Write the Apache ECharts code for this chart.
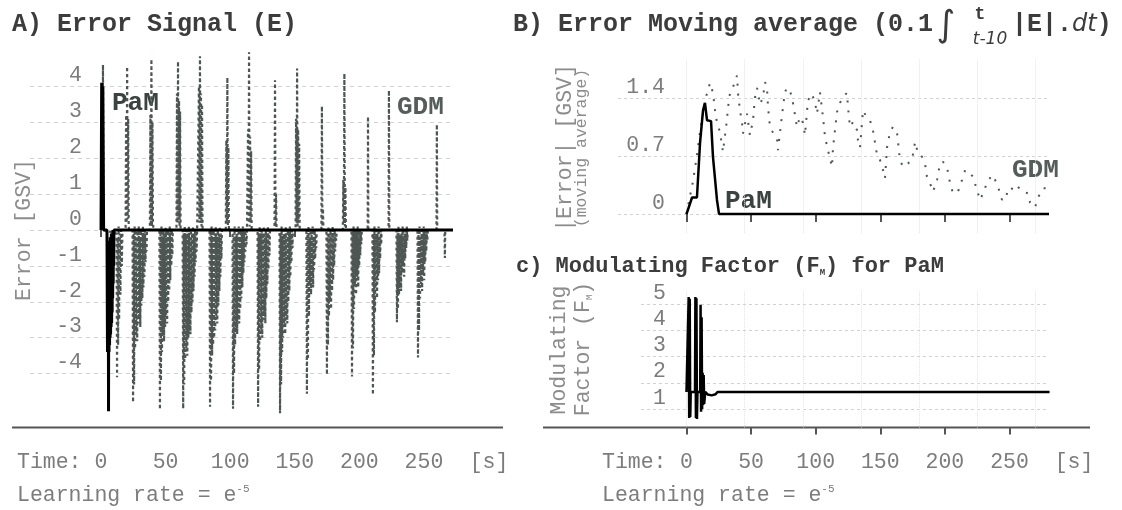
<!DOCTYPE html>
<html>
<head>
<meta charset="utf-8">
<script src="https://cdn.jsdelivr.net/npm/echarts@6/dist/echarts.min.js"></script>
<style>
  html, body { margin: 0; padding: 0; background: #fff; }
  #chart { width: 1122px; height: 510px; }
</style>
</head>
<body>
<div id="chart"></div>
<script>
// ticks
const timeTicks = [0, 50, 100, 150, 200, 250];
const gridTimes = [0, 45, 90, 135, 180, 225, 270];
const errorTicks = [-4, -3, -2, -1, 0, 1, 2, 3, 4];
const avgTicks = [0, 0.7, 1.4];
const factorTicks = [1, 2, 3, 4, 5];

// A) error signal, PaM
const pamTime = [0, 0.5, 1.0, 1.4, 2.0, 4.6,
  5.0, 5.2, 5.4, 5.6, 5.8, 6.0, 6.2, 6.4, 6.6, 6.8, 7.0, 7.2, 7.4, 7.6, 7.8, 8.0, 8.2, 8.4, 8.6, 8.8, 9.0, 9.2, 9.4, 9.6, 9.8, 10.0,
  10.4, 272.5];
const pamError = [0, 4.1, 0.5, 4.0, 0, 0,
  -3.4, -0.4, -3.3, -0.6, -5.05, -0.5, -3.4, -0.3, -3.2, -0.4, -3.0, -0.2, -2.9, -0.3, -2.7, -0.1, -2.6, -0.2, -2.3, -0.1, -1.9, 0, -1.5, -0.1, -1.0, 0,
  0, 0];

// A) error signal, GDM (one line per burst)
const gdmTime = [
  0, 1.1, 1.5, 1.9, 12.0, 12.4, 12.8, 13.2, 13.6, 14.0, 14.4, 15.0, 15.5, 16.1, 16.6,
  19.0, 19.4, 19.8, 20.2, 20.6, 21.0, 21.4, 21.8,
  24.4, 24.8, 25.2, 25.6, 26.0, 26.4, 26.8, 27.2, 27.6, 28.0, 28.4, 28.8, 29.2, 29.6, 30.0, 30.4, 30.8, 31.2, 31.6, 32.0, 32.4, 32.8, 33.2, 33.6, 34.0, 34.4, 34.8, 35.2, 35.6,
  37.8, 38.2, 38.6, 39.0, 39.4, 39.8, 40.2, 40.6,
  45.2, 45.6, 46.0, 46.4, 46.8, 47.2, 47.6, 48.0, 48.4, 48.8, 49.2, 49.6, 50.0, 50.4, 50.8, 51.2, 51.6, 52.0, 52.4, 52.8, 53.2, 53.6, 54.0, 54.4, 54.8, 55.2, 55.6,
  58.4, 58.8, 59.2, 59.6, 60.0, 60.4, 60.8, 61.2, 61.6, 62.0,
  63.2, 63.6, 64.0, 64.4, 64.8, 65.2, 65.6, 66.0, 66.4, 66.8, 67.2, 67.6, 68.0, 68.4, 68.8, 69.2, 69.6, 70.0, 70.4, 70.8, 71.2, 71.6, 72.0, 72.4, 72.8, 73.2, 73.6, 74.0, 74.4,
  75.4, 75.8, 76.2, 76.6, 77.0, 77.4, 77.8, 78.2, 78.6, 79.0,
  84.0, 84.4, 84.8, 85.2, 85.6, 86.0, 86.4, 86.8, 87.2, 87.6, 88.0, 88.4, 88.8, 89.2, 89.6, 90.0, 90.4, 90.8, 91.2, 91.6, 92.0, 92.4, 92.8, 93.2, 93.6,
  96.6, 97.0, 97.4, 97.8, 98.2, 98.6, 99.0, 99.4,
  101.8, 102.2, 102.6, 103.0, 103.4, 103.8, 104.2, 104.6, 105.0, 105.4, 105.8, 106.2, 106.6, 107.0, 107.4, 107.8, 108.2, 108.6, 109.0, 109.4, 109.8, 110.2, 110.6, 111.0, 111.4, 111.8, 112.2, 112.6, 113.0,
  113.4, 113.8, 114.2, 114.6, 115.0, 115.4, 115.8, 116.2, 116.6, 117.0,
  121.2, 121.6, 122.0, 122.4, 122.8, 123.2, 123.6, 124.0, 124.4, 124.8, 125.2, 125.6, 126.0, 126.4, 126.8, 127.2, 127.6, 128.0, 128.4, 128.8, 129.2, 129.6, 130.0, 130.4, 130.8,
  134.3, 134.7, 135.1, 135.5, 135.9,
  138.2, 138.6, 139.0, 139.4, 139.8, 140.2, 140.6, 141.0, 141.4, 141.8, 142.2, 142.6, 143.0, 143.4, 143.8, 144.2, 144.6, 145.0, 145.4, 145.8, 146.2, 146.6, 147.0, 147.4, 147.8, 148.2, 148.6,
  150.6, 151.0, 151.4, 151.8, 152.2, 152.6, 153.0, 153.4, 153.8, 154.2,
  159.0, 159.4, 159.8, 160.2, 160.6, 161.0, 161.4, 161.8, 162.2, 162.6, 163.0, 163.4, 163.8, 164.2, 164.6, 165.0, 165.4, 165.8, 166.2, 166.6, 167.0,
  170.6, 171.0, 171.4, 171.8, 172.2,
  174.5, 174.9, 175.3, 175.7, 176.1, 176.5, 176.9, 177.3, 177.7, 178.1, 178.5, 178.9, 179.3, 179.7, 180.1, 180.5, 180.9, 181.3, 181.7, 182.1, 182.5,
  187.2, 187.6, 188.0, 188.4, 188.8, 189.2, 189.6, 190.0,
  193.9, 194.3, 194.7, 195.1, 195.5, 195.9, 196.3, 196.7, 197.1, 197.5, 197.9, 198.3, 198.7, 199.1, 199.5, 199.9, 200.3, 200.7, 201.1, 201.5, 201.9,
  206.4, 206.7, 207.0,
  210.1, 210.5, 210.9, 211.3, 211.7, 212.1, 212.5, 212.9, 213.3, 213.7, 214.1, 214.5, 214.9, 215.3, 215.7, 216.1, 216.5, 216.9, 217.3,
  222.6, 222.9, 223.2,
  228.7, 229.1, 229.5, 229.9, 230.3, 230.7, 231.1, 231.5, 231.9, 232.3, 232.7, 233.1, 233.5, 233.9, 234.3, 234.7, 235.1, 235.5, 235.9, 236.3, 236.7, 237.1, 237.5,
  245.0, 245.4, 245.8, 246.2, 246.6, 247.0, 247.4, 247.8, 248.2, 248.6, 249.0, 249.4, 249.8, 250.2, 250.6, 251.0, 251.4, 251.8, 252.2, 252.6, 253.0,
  259.7, 260.0, 260.3,
  265.9, 266.2, 266.5, 270
];
const gdmError = [
  0, 1.8, 4.6, 0, -0.1, -4.1, -0.2, -3.2, 0.1, -2.5, -0.1, -1.8, 0, -1.0, 0,
  0, 3.2, 0.2, 4.55, 0.3, 3.1, 0.1, 0,
  0, -4.8, -0.1, -4.3, 0.1, -3.3, -0.2, -2.9, 0, -3.1, -0.1, -2.6, 0.1, -2.4, -0.2, -2.7, 0, -2.1, -0.1, -1.9, 0.1, -1.6, -0.1, -1.3, 0, -0.9, -0.1, -0.6, 0,
  0, 3.2, 0.2, 4.76, 0.1, 3.0, 0.2, 0,
  0, -5.0, -0.1, -4.2, 0.1, -3.4, -0.2, -2.9, 0, -3.1, -0.1, -2.7, 0.1, -2.4, -0.2, -2.6, 0, -2.0, -0.1, -1.7, 0.1, -1.4, -0.1, -1.0, 0, -0.7, 0,
  0, 3.8, 0.2, 4.7, 0.3, 3.6, 0.1, 3.3, 0, 0,
  0, -4.98, -0.1, -4.3, 0.1, -3.6, -0.2, -3.3, 0, -3.5, -0.1, -3.0, 0.1, -2.7, -0.2, -2.9, 0, -2.3, -0.1, -2.0, 0.1, -1.7, -0.1, -1.3, 0, -0.9, -0.1, -0.6, 0,
  0, 4.0, 0.2, 4.84, 0.3, 3.8, 0.1, 3.5, 0, 0,
  0, -4.92, -0.1, -4.2, 0.1, -3.5, -0.2, -3.2, 0, -3.0, -0.1, -2.8, 0.1, -2.5, -0.2, -2.6, 0, -2.1, -0.1, -1.7, 0.1, -1.3, -0.1, -0.8, 0,
  0, 2.5, 0.2, 4.25, 0.1, 2.3, 0, 0,
  0, -4.98, -0.1, -4.0, 0.1, -3.2, -0.2, -2.8, 0, -2.9, -0.1, -2.5, 0.1, -2.6, -0.2, -2.2, 0, -1.9, -0.1, -1.6, 0.1, -1.2, -0.1, -0.9, 0, -0.6, -0.1, -0.4, 0,
  0, 2.8, 0.2, 4.95, 0.1, 2.6, 0.2, 2.2, 0, 0,
  0, -4.92, -0.1, -3.9, 0.1, -3.1, -0.2, -2.8, 0, -3.0, -0.1, -2.5, 0.1, -2.3, -0.2, -2.6, 0, -1.9, -0.1, -1.5, 0.1, -1.1, -0.1, -0.7, 0,
  0, 4.17, 0.1, 1.0, 0,
  0, -5.1, -0.1, -4.3, 0.1, -3.4, -0.2, -3.0, 0, -2.7, -0.1, -2.9, 0.1, -2.4, -0.2, -2.6, 0, -2.0, -0.1, -1.7, 0.1, -1.3, -0.1, -0.9, 0, -0.5, 0,
  0, 3.1, 0.2, 4.5, 0.1, 2.8, 0.2, 2.4, 0, 0,
  0, -4.56, -0.1, -3.6, 0.1, -2.4, -0.2, -1.5, 0, -1.8, -0.1, -1.3, 0.1, -1.6, -0.2, -1.1, 0, -0.8, -0.1, -0.5, 0,
  0, 3.45, 0.1, 0.6, 0,
  0, -4.03, -0.1, -3.2, 0.1, -2.4, -0.2, -2.0, 0, -2.2, -0.1, -1.7, 0.1, -1.4, -0.2, -1.0, 0, -0.6, -0.1, -0.3, 0,
  0, 1.4, 0.2, 4.36, 0.1, 1.2, 0, 0,
  0, -4.08, -0.1, -3.3, 0.1, -2.2, -0.2, -1.5, 0, -1.8, -0.1, -1.3, 0.1, -1.6, -0.2, -1.0, 0, -0.7, -0.1, -0.4, 0,
  0, 3.16, 0,
  0, -4.59, -0.1, -3.5, 0.1, -2.3, -0.2, -1.6, 0, -1.9, -0.1, -1.4, 0.1, -1.2, -0.2, -0.8, 0, -0.4, 0,
  0, 3.89, 0,
  0, -2.57, -0.1, -2.2, 0.1, -1.8, -0.2, -1.5, 0, -1.7, -0.1, -1.2, 0.1, -1.0, -0.2, -1.3, 0, -0.8, -0.1, -0.5, 0.1, -0.3, 0,
  0, -3.55, -0.1, -2.8, 0.1, -1.9, -0.2, -1.5, 0, -1.7, -0.1, -1.2, 0.1, -1.4, -0.2, -0.9, 0, -0.6, -0.1, -0.3, 0,
  0, 2.94, 0,
  0, -0.78, 0, 0
];

// B) moving average of |E|
const pamAvgTime = [0, 0.4, 4.3, 8.1, 10.5, 12.8, 14.3, 15.9, 19.0, 20.5, 23.6, 25.2, 297];
const pamAvg = [0, 0, 0.2, 0.2, 0.86, 1.25, 1.34, 1.13, 1.12, 0.69, 0.17, 0, 0];
const gdmAvgTime = [
  0, 2.5, 5.0, 8.0, 11.0, 15.1, 18.2, 20.5, 22.1, 23.6, 25.9, 28.2, 31.3, 32.1, 33.7, 36.0, 39.1, 39.9, 41.4, 43.0,
  43.7, 46.8, 49.1, 51.5, 53.0, 54.6, 56.9, 59.2, 60.8, 62.3, 63.1, 64.6, 67.0, 70.1, 70.8, 73.9, 76.2, 77.8, 80.1, 82.4,
  85.5, 87.8, 90.2, 91.7, 94.0, 97.1, 99.5, 101.0, 103.3, 105.7, 107.2, 109.5, 112.6, 113.4, 116.5, 118.8, 121.1, 124.2, 125.0, 126.5,
  128.9, 132.0, 132.7, 134.3, 136.6, 139.7, 142.0, 144.3, 147.5, 149.8, 152.1, 153.6, 155.2, 157.5, 159.8, 162.9, 165.2, 167.6, 171.4, 174.5,
  176.9, 179.2, 182.3, 184.6, 186.1, 188.5, 190.8, 193.9, 196.2, 198.5, 201.6, 204.0, 206.3, 210.1, 213.2, 215.6, 219.4, 221.7, 224.8, 227.2,
  229.5, 233.4, 237.2, 241.1, 244.2, 246.5, 250.4, 252.7, 255.8, 258.1, 260.5, 264.3, 265.9, 269.7, 272.1, 275.9, 279.8, 282.9, 285.2, 289.1,
  293.0, 295.3
];
const gdmAvg = [
  0, 0.2, 0.39, 0.7, 1.05, 1.41, 1.58, 1.46, 1.25, 1.1, 0.99, 0.75, 1.13, 1.28, 1.46, 1.53, 1.67, 1.45, 1.25, 1.1,
  0.97, 1.21, 0.95, 1.13, 1.4, 1.52, 1.32, 1.41, 1.59, 1.52, 1.29, 1.05, 0.98, 0.9, 0.77, 1.19, 1.47, 1.52, 1.49, 1.34,
  1.05, 1.17, 1.1, 0.95, 1.37, 1.45, 1.34, 1.21, 1.47, 1.16, 0.93, 0.77, 0.57, 0.8, 1.23, 1.34, 1.41, 1.46, 1.29, 1.05,
  1.11, 1.01, 0.89, 0.8, 1.25, 1.16, 1.13, 1.01, 0.71, 0.65, 0.53, 0.43, 0.8, 0.99, 1.05, 0.99, 0.65, 0.57, 0.61, 0.65,
  0.87, 0.73, 0.69, 0.61, 0.45, 0.37, 0.27, 0.41, 0.61, 0.63, 0.57, 0.37, 0.25, 0.27, 0.41, 0.53, 0.49, 0.45, 0.29, 0.17,
  0.25, 0.41, 0.47, 0.33, 0.17, 0.25, 0.23, 0.35, 0.33, 0.31, 0.27, 0.25, 0.14, 0.08, 0.2, 0.31, 0.31, 0.17, 0.11, 0.08,
  0.07, 0.05
];

// C) modulating factor for PaM
const factorTime = [0, 1.4, 1.7, 2.1, 2.5, 2.9, 3.3, 6.6, 6.9, 7.3, 7.7, 8.1, 8.5, 10.6, 10.9, 11.3, 11.7, 12.1, 12.5, 12.9, 13.3, 13.7, 14.5, 16.5, 19.5, 22.5, 24.0, 281];
const factorValue = [1.65, 1.65, 5.27, 0.66, 5.2, 0.7, 1.65, 1.65, 5.27, 0.66, 5.22, 0.62, 1.65, 1.65, 4.97, 0.9, 4.5, 1.0, 2.38, 1.15, 2.3, 1.2, 1.65, 1.55, 1.52, 1.56, 1.65, 1.65];

const MONO = '"Liberation Mono", "Courier New", monospace';
const TITLE_C = '#3c3c3c';
const TICK_C = '#7c7c7c';
const NAME_C = '#8c8c8c';
const GDM_C = '#4e5654';
const AXIS_C = '#555';

const zip = (ts, vs) => ts.map((t, i) => [t, vs[i]]);

function text(x, y, str, style, extra) {
  return Object.assign({
    type: 'text', x, y, silent: true,
    style: Object.assign({
      text: str, fontFamily: MONO, fontSize: 21.5, fill: TICK_C,
      align: 'left', verticalAlign: 'middle'
    }, style || {})
  }, extra || {});
}

function yAxisFor(grid, min, max, ticks, margin, splitType) {
  return {
    type: 'value', gridIndex: grid, min, max,
    axisLine: { show: false },
    axisTick: { show: false, customValues: ticks },
    axisLabel: {
      customValues: ticks, inside: true, align: 'right', verticalAlign: 'bottom',
      margin, color: TICK_C, fontFamily: MONO, fontSize: 21.5, lineHeight: 22
    },
    splitLine: { show: true, lineStyle: { color: '#d2d2d2', width: 1, type: splitType } }
  };
}

const tickStyle = { color: AXIS_C, width: 2 };
const supRich = {
  a: { fontFamily: MONO, fontSize: 21.5, fill: TICK_C },
  s: { fontFamily: MONO, fontSize: 11, fill: TICK_C, verticalAlign: 'top' }
};

const chart = echarts.init(document.getElementById('chart'));
chart.setOption({
  animation: false,
  backgroundColor: '#fff',
  grid: [
    { left: 30, top: 50.5, width: 423, height: 377 },
    { left: 618, top: 59.7, width: 429, height: 174.3 },
    { left: 641, top: 290.9, width: 407, height: 136.5 }
  ],
  xAxis: [
    {
      type: 'value', gridIndex: 0, min: -55, max: 272.5,
      axisLine: { show: false },
      axisTick: { show: true, customValues: timeTicks, length: 7, lineStyle: tickStyle },
      axisLabel: { customValues: timeTicks, color: TICK_C, fontFamily: MONO, fontSize: 21.5, margin: 24 },
      splitLine: { show: false }
    },
    {
      type: 'value', gridIndex: 1, min: -53, max: 279,
      axisLine: { show: false },
      axisTick: { show: true, customValues: timeTicks, length: 8, lineStyle: tickStyle },
      axisLabel: { show: false },
      splitLine: { show: false }
    },
    {
      type: 'value', gridIndex: 2, min: -35.2, max: 279.8,
      axisLine: { show: false },
      axisTick: { show: true, customValues: timeTicks, length: 7, lineStyle: tickStyle },
      axisLabel: { customValues: timeTicks, color: TICK_C, fontFamily: MONO, fontSize: 21.5, margin: 24 },
      splitLine: { show: false }
    },
    {
      type: 'value', gridIndex: 1, min: -53, max: 279,
      axisLine: { show: false },
      axisTick: { show: false, customValues: gridTimes },
      axisLabel: { show: false },
      splitLine: { show: true, lineStyle: { color: '#e4e4e4', width: 1, type: 'dotted' } }
    },
    {
      type: 'value', gridIndex: 2, min: -35.2, max: 279.8,
      axisLine: { show: false },
      axisTick: { show: false, customValues: gridTimes },
      axisLabel: { show: false },
      splitLine: { show: true, lineStyle: { color: '#e4e4e4', width: 1, type: 'dotted' } }
    }
  ],
  yAxis: [
    yAxisFor(0, -5.5, 5, errorTicks, 52, [4, 4]),
    yAxisFor(1, -0.24, 1.86, avgTicks, 47, [3, 3]),
    yAxisFor(2, 0.3, 5.5, factorTicks, 25, [3, 3])
  ],
  series: [
    {
      name: 'GDM', type: 'line', xAxisIndex: 0, yAxisIndex: 0, data: zip(gdmTime, gdmError),
      showSymbol: false, symbol: 'none', z: 2,
      lineStyle: { color: GDM_C, width: 2.2, type: [3, 3] }
    },
    {
      name: 'PaM', type: 'line', xAxisIndex: 0, yAxisIndex: 0, data: zip(pamTime, pamError),
      showSymbol: false, symbol: 'none', z: 3,
      lineStyle: { color: '#000', width: 3 }
    },
    {
      name: 'GDM avg', type: 'line', xAxisIndex: 1, yAxisIndex: 1, data: zip(gdmAvgTime, gdmAvg),
      showSymbol: false, symbol: 'none', clip: false, z: 2,
      lineStyle: { color: GDM_C, width: 2, type: [2, 8] }
    },
    {
      name: 'PaM avg', type: 'line', xAxisIndex: 1, yAxisIndex: 1, data: zip(pamAvgTime, pamAvg),
      showSymbol: false, symbol: 'none', clip: false, z: 3,
      lineStyle: { color: '#000', width: 2.5 }
    },
    {
      name: 'Factor', type: 'line', xAxisIndex: 2, yAxisIndex: 2, data: zip(factorTime, factorValue),
      showSymbol: false, symbol: 'none', z: 3,
      lineStyle: { color: '#000', width: 2.5 }
    }
  ],
  graphic: [
    // axis base lines
    { type: 'line', silent: true, shape: { x1: 12, y1: 427.5, x2: 503, y2: 427.5 }, style: { stroke: AXIS_C, lineWidth: 2 } },
    { type: 'line', silent: true, shape: { x1: 543, y1: 427.5, x2: 1090, y2: 427.5 }, style: { stroke: AXIS_C, lineWidth: 2 } },

    // titles
    text(12, 25, 'A) Error Signal (E)', { fontSize: 25, fontWeight: 'bold', fill: TITLE_C }),
    text(513, 25, 'B) Error Moving average (0.1', { fontSize: 25, fontWeight: 'bold', fill: TITLE_C }),
    text(946, 27, '\u222B', { fontFamily: '"DejaVu Sans"', fontSize: 36, fill: TITLE_C, align: 'center' }),
    text(980, 14, 't', { fontSize: 18, fontWeight: 'bold', fill: TITLE_C, align: 'center' }),
    text(990, 40, 't-10', { fontFamily: '"DejaVu Sans"', fontStyle: 'italic', fontSize: 17, fill: TITLE_C, align: 'center' }),
    text(1012, 25, '{m||E|.}{i|dt}{m|)}', {
      fill: TITLE_C,
      rich: {
        m: { fontFamily: MONO, fontSize: 25, fontWeight: 'bold', fill: TITLE_C },
        i: { fontFamily: '"DejaVu Sans"', fontSize: 24, fontStyle: 'italic', fill: TITLE_C }
      }
    }),
    text(516, 266, '{t|c) Modulating Factor (F}{s|M}{t|) for PaM}', {
      fill: TITLE_C,
      rich: {
        t: { fontFamily: MONO, fontSize: 22, fontWeight: 'bold', fill: TITLE_C },
        s: { fontFamily: MONO, fontSize: 9, fontWeight: 'bold', fill: TITLE_C, verticalAlign: 'bottom' }
      }
    }),

    // axis names
    text(24, 230, 'Error [GSV]', { fill: NAME_C, align: 'center' }, { rotation: Math.PI / 2 }),
    text(565, 148, '|Error| [GSV]', { fill: NAME_C, align: 'center' }, { rotation: Math.PI / 2 }),
    text(582, 148, '(moving average)', { fill: NAME_C, fontSize: 16.5, align: 'center' }, { rotation: Math.PI / 2 }),
    text(559, 350, 'Modulating', { fill: NAME_C, align: 'center' }, { rotation: Math.PI / 2 }),
    text(583, 349, '{a|Factor (F}{s|M}{a|)}', {
      fill: NAME_C, align: 'center',
      rich: {
        a: { fontFamily: MONO, fontSize: 21.5, fill: NAME_C },
        s: { fontFamily: MONO, fontSize: 9, fill: NAME_C, verticalAlign: 'bottom' }
      }
    }, { rotation: Math.PI / 2 }),

    // series labels
    text(112, 103, 'PaM', { fontSize: 26, fontWeight: 'bold', fill: '#3b4341' }),
    text(397, 107, 'GDM', { fontSize: 26, fontWeight: 'bold', fill: '#555d5b' }),
    text(725, 201, 'PaM', { fontSize: 26, fontWeight: 'bold', fill: '#3b4341' }),
    text(1012, 170, 'GDM', { fontSize: 26, fontWeight: 'bold', fill: '#555d5b' }),

    // time axis captions
    text(17, 462, 'Time:'),
    text(489, 462, '[s]', { align: 'center' }),
    text(17, 495, '{a|Learning rate = e}{s|-5}', { rich: supRich }),
    text(602, 462, 'Time:'),
    text(1074, 462, '[s]', { align: 'center' }),
    text(602, 495, '{a|Learning rate = e}{s|-5}', { rich: supRich })
  ]
});
</script>
</body>
</html>
